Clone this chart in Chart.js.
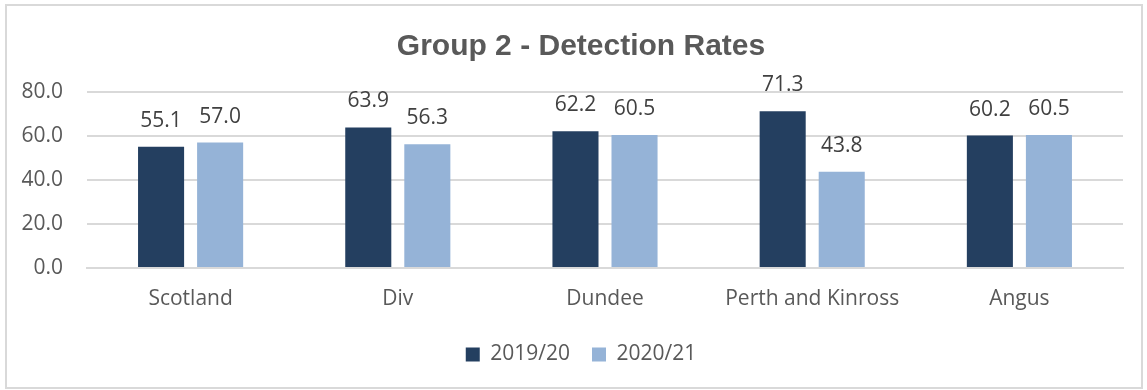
<!DOCTYPE html>
<html>
<head>
<meta charset="utf-8">
<title>Group 2 - Detection Rates</title>
<script src="https://cdn.jsdelivr.net/npm/chart.js@4/dist/chart.umd.min.js"></script>
<style>
    html, body { margin: 0; padding: 0; background: #fff; }
    #frame {
        position: absolute; left: 5px; top: 4px;
        width: 1134px; height: 381px;
        border: 2px solid #d9d9d9;
    }
    #chart { display: block; }
</style>
</head>
<body>
<div id="frame"><canvas id="chart" width="1134" height="381"></canvas></div>
<script>
(function() {
    'use strict';

    const areas = ['Scotland', 'Div', 'Dundee', 'Perth and Kinross', 'Angus'];
    const rates1920 = [55.1, 63.9, 62.2, 71.3, 60.2];
    const rates2021 = [57.0, 56.3, 60.5, 43.8, 60.5];
    const yTicks = [0, 20, 40, 60, 80];

    const grey = '#595959';
    const bodyFont = "'Open Sans', 'Noto Sans', sans-serif";

    // writes each bar's value above it, one decimal place
    const valueLabels = {
        id: 'valueLabels',
        afterDatasetsDraw(chart) {
            const ctx = chart.ctx;
            ctx.save();
            ctx.font = '21px ' + bodyFont;
            ctx.fillStyle = '#404040';
            ctx.textAlign = 'center';
            ctx.textBaseline = 'middle';
            chart.data.datasets.forEach((ds, i) => {
                chart.getDatasetMeta(i).data.forEach((bar, j) => {
                    ctx.fillText(ds.data[j].toFixed(1), bar.x, bar.y - 26);
                });
            });
            ctx.restore();
        }
    };

    // centre title and legend on the frame rather than the full canvas width
    const centreShift = {
        id: 'centreShift',
        afterLayout(chart) {
            const dx = 16;
            [chart.titleBlock, chart.legend].forEach(b => {
                if (!b) return;
                b.left += dx;
                b.right += dx;
            });
        }
    };

    new Chart(document.getElementById('chart'), {
        type: 'bar',
        data: {
            labels: areas,
            datasets: [
                { label: '2019/20', data: rates1920, backgroundColor: '#243f60' },
                { label: '2020/21', data: rates2021, backgroundColor: '#95b3d7' }
            ]
        },
        options: {
            responsive: false,
            animation: false,
            layout: { padding: { left: 0, right: 18, top: 0, bottom: 12 } },
            datasets: { bar: { categoryPercentage: 0.57, barPercentage: 0.78 } },
            plugins: {
                title: {
                    display: true,
                    text: 'Group 2 - Detection Rates',
                    color: grey,
                    font: { family: "'Liberation Sans', Arial, sans-serif", size: 30, weight: 'bold' },
                    padding: { top: 23, bottom: 27 }
                },
                legend: {
                    position: 'bottom',
                    labels: {
                        color: grey,
                        font: { family: bodyFont, size: 21 },
                        boxWidth: 14, boxHeight: 14,
                        padding: 22
                    }
                },
                tooltip: { enabled: false }
            },
            scales: {
                x: {
                    afterFit: axis => { axis.height = 54; },
                    grid: { display: false },
                    border: { color: '#d9d9d9', width: 2 },
                    ticks: { color: grey, font: { family: bodyFont, size: 21 }, padding: 10 }
                },
                y: {
                    min: 0, max: 80,
                    afterBuildTicks: axis => { axis.ticks = yTicks.map(v => ({ value: v })); },
                    afterFit: axis => { axis.width = 80; },
                    grid: { color: '#d9d9d9', lineWidth: 2, drawTicks: false },
                    border: { display: false },
                    ticks: {
                        color: grey,
                        font: { family: bodyFont, size: 21 },
                        padding: 24,
                        callback: v => v.toFixed(1)
                    }
                }
            }
        },
        plugins: [valueLabels, centreShift]
    });
})();
</script>
</body>
</html>
